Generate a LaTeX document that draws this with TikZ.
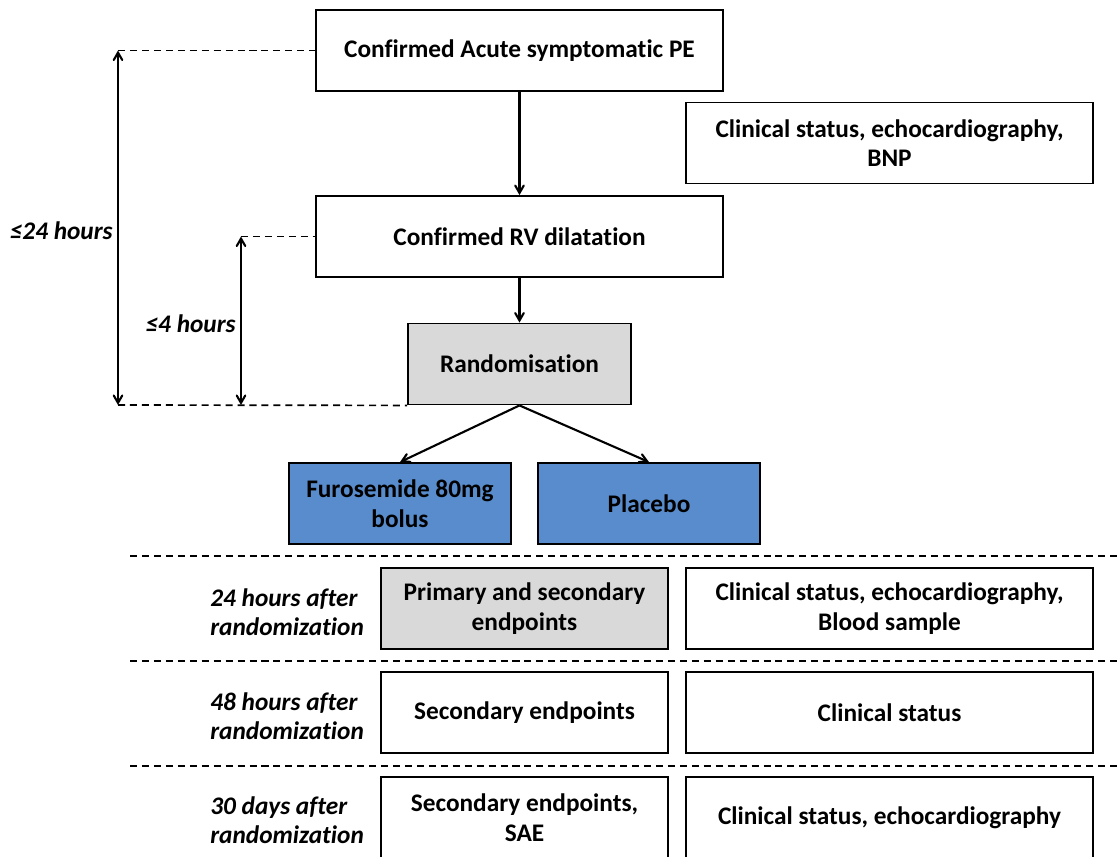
\documentclass[tikz,border=0pt]{standalone}
\usepackage{fontspec}
\setmainfont{Carlito}[Ligatures=NoCommon]
\usetikzlibrary{arrows,positioning}
\definecolor{boxgrey}{RGB}{217,217,217}
\definecolor{boxblue}{RGB}{88,140,204}
\tikzset{
	>=angle 60,
	punkt/.style={
		rectangle,
		draw=black, line width=1.3pt,
		inner sep=0pt,
		align=center,
		font=\bfseries\fontsize{18}{21}\selectfont},
	wide/.style={punkt, minimum width=10.175cm, minimum height=2.025cm},
	mid/.style={punkt, minimum width=7.175cm, minimum height=2.025cm},
	small/.style={punkt, minimum width=5.55cm, minimum height=2.025cm},
	grey/.style={fill=boxgrey},
	blue/.style={fill=boxblue},
	line/.style={draw, line width=1.5pt, ->},
	span/.style={draw, line width=1.5pt, <->},
	timeline/.style={draw, line width=1.2pt, dash pattern=on 5pt off 3.5pt},
	tlabel/.style={inner sep=0pt, anchor=west, align=left,
		font=\bfseries\itshape\fontsize{18}{21}\selectfont},
}
\begin{document}
\begin{tikzpicture}[x=0.025cm, y=-0.025cm]
\useasboundingbox (0,0) rectangle (1119,856);

% flow at the top
\node[wide] (PE) at (519.5,50.5) {Confirmed Acute symptomatic PE};
\node[wide] (BNP) at (889.5,143) {Clinical status, echocardiography,\\BNP};
\node[wide] (RV) at (519.5,236.5) {Confirmed RV dilatation};
\node[small, grey, minimum width=5.575cm] (rand) at (519.5,364) {Randomisation};
\node[small, blue] (furo) at (400,503.5) {Furosemide 80mg\\bolus};
\node[small, blue] (plac) at (649,503.5) {Placebo};

\draw[line] (PE) -- (RV);
\draw[line] (RV) -- (rand);
\draw[line] (rand.south) -- (furo.north);
\draw[line] (rand.south) -- (plac.north);

% time spans
\coordinate (top24) at (118,50.5);
\coordinate (bot24) at (118,405);
\coordinate (top4) at (241,236.5);
\coordinate (bot4) at (241,405);
\draw[timeline] (top24) -- (PE.west);
\draw[timeline] (top4) -- (RV.west);
\draw[timeline] (bot24) -- (rand.south west);
\draw[span] (top24) -- (bot24) node[midway, left=3pt, tlabel, anchor=east, yshift=-2pt] {≤24 hours};
\draw[span] (top4) -- (bot4) node[midway, left=3pt, tlabel, anchor=east, yshift=-2pt] {≤4 hours};

% follow-up
\foreach \y in {556,661,766}
	\draw[timeline] (130,\y) -- (1119,\y);

\node[tlabel] (t24) at (210,612) {24 hours after\\randomization};
\node[tlabel] (t48) at (210,716) {48 hours after\\randomization};
\node[tlabel] (t30) at (210,820) {30 days after\\randomization};

\node[mid, grey] (prim) at (524.5,608.5) {Primary and secondary\\endpoints};
\node[wide] (cs24) at (889.5,608.5) {Clinical status, echocardiography,\\Blood sample};
\node[mid] (sec48) at (524.5,712.5) {Secondary endpoints};
\node[wide] (cs48) at (889.5,712.5) {Clinical status};
\node[mid] (sec30) at (524.5,817.5) {Secondary endpoints,\\SAE};
\node[wide] (cs30) at (889.5,817.5) {Clinical status, echocardiography};
\end{tikzpicture}
\end{document}
